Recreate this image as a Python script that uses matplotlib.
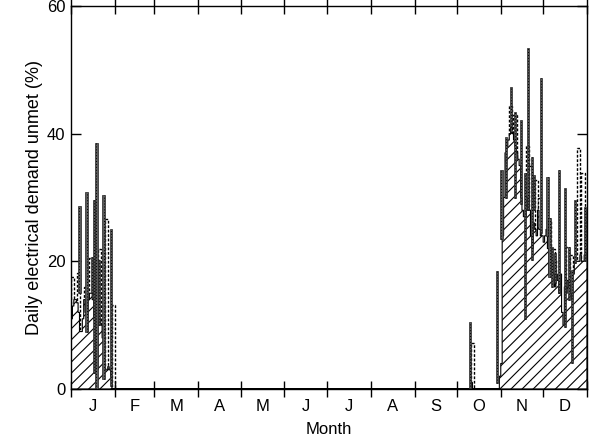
import matplotlib
matplotlib.use("Agg")
import matplotlib.pyplot as plt
import numpy as np

plt.rcParams['font.family'] = ['Liberation Sans', 'DejaVu Sans']
plt.rcParams['hatch.linewidth'] = 0.8

# Month boundaries (day of year) and labels
month_starts = [0, 31, 59, 90, 120, 151, 181, 212, 243, 273, 304, 334, 365]
month_labels = ['J', 'F', 'M', 'A', 'M', 'J', 'J', 'A', 'S', 'O', 'N', 'D']

# Typical daily unmet demand (hatched area), by day of year
area_days = list(range(0, 30)) + [282, 283, 284] + list(range(302, 365))
area_vals = [11, 13, 14, 14, 13.5, 12, 9, 9, 11, 14, 12, 9, 14, 15, 15, 14,
             11, 4, 3, 10, 11, 10, 8, 4, 3, 3, 3.5, 3, 2, 0,
             0, 1, 0,
             0, 2, 4, 24, 30, 37, 38, 39, 40, 41, 40, 39, 38, 37, 36, 35,
             30, 28, 27, 27, 28, 30, 28, 24, 22, 26, 25, 24, 28, 25, 24,
             24, 23, 24, 25, 22, 18, 19, 20, 18, 16, 18, 17, 15, 18, 12,
             10, 16, 15, 17, 16, 15, 14, 18, 20, 20, 20, 20, 21, 20, 20,
             21, 21]

# Upper daily values (open bars)
white_days = [0, 4, 9, 13, 19, 24, 29, 283, 310, 313, 322, 324, 328, 330,
              337, 340, 343, 350, 353, 358, 361, 364]
white_vals = [17.5, 18.2, 16, 20.5, 22, 26.6, 13.2, 7.2, 44.3, 43, 38, 35,
              32.7, 30, 26.5, 22, 20, 22.3, 21, 37.7, 33.8, 28]

# Daily extreme ranges (dark bars)
dark_days = [6, 11, 15, 16, 18, 20, 23, 28,
             282, 301.5, 304.5, 308, 311.2, 314, 318.6, 321.3, 323.4, 325.8,
             327.4, 332.4, 337.1, 338.5, 340.4, 342.3, 345.1, 349.4, 352.2,
             354.5, 356.4, 363.5]
dark_lo = [15, 9, 15, 2.5, 0, 10, 1.5, 0.5,
           0, 1, 23.5, 30, 41, 30, 29, 11, 28, 20.2,
           28, 24.4, 24, 17.6, 16, 16.6, 15, 9.7, 14,
           4, 19.7, 20]
dark_hi = [28.7, 30.9, 20.7, 29.6, 38.5, 20.2, 30.4, 25,
           10.5, 18.5, 34.3, 39.5, 47.3, 43.4, 42.2, 33.8, 53.4, 36.4,
           33.5, 48.7, 33.2, 26.8, 22.3, 21.3, 34.3, 31.5, 22.3,
           18.7, 29.6, 28.5]

fig = plt.figure(figsize=(5.89, 4.44), dpi=100)
ax = fig.add_axes([71 / 589, 1 - 389 / 444, 516 / 589, 383 / 444])

# Open bars with dashed edges
ax.bar(white_days, white_vals, width=2.3, align='edge', facecolor='white',
       edgecolor='black', linewidth=1.0, linestyle=(0, (2, 1.2)), zorder=1)

# Hatched step area
x_full = np.arange(0, 366)
y_full = np.zeros(366)
for d, v in zip(area_days, area_vals):
    y_full[d] = v
ax.fill_between(x_full, y_full, step='post', facecolor='white',
                edgecolor='black', hatch='///', linewidth=0.8, zorder=2)

# Dark range bars
heights = [h - l for h, l in zip(dark_hi, dark_lo)]
ax.bar(dark_days, heights, bottom=dark_lo, width=1.5, facecolor='#5a5a5a',
       edgecolor='#222222', linewidth=0.5, zorder=3)
for d, l, h in zip(dark_days, dark_lo, dark_hi):
    ax.plot([d, d], [l, h], color='black', linestyle=(0, (1, 2)),
            linewidth=0.7, zorder=4)

ax.set_xlim(0, 365)
ax.set_ylim(0, 60)

ax.set_xticks(month_starts)
ax.set_xticklabels([])
mids = [(a + b) / 2 for a, b in zip(month_starts[:-1], month_starts[1:])]
ax.set_xticks(mids, minor=True)
ax.set_xticklabels(month_labels, minor=True, fontsize=12)
ax.tick_params(axis='x', which='major', direction='inout', length=12,
               width=1, top=True)
ax.tick_params(axis='x', which='minor', length=0, pad=7)
ax.set_yticks([0, 20, 40, 60])
ax.tick_params(axis='y', direction='in', length=7, width=1, right=True,
               labelsize=12, pad=4)

for s in ax.spines.values():
    s.set_linewidth(1.0)

ax.set_xlabel('Month', fontsize=12, labelpad=6)
ax.set_ylabel('Daily electrical demand unmet (%)', fontsize=13, labelpad=3)

fig.savefig('out.png', dpi=100)
